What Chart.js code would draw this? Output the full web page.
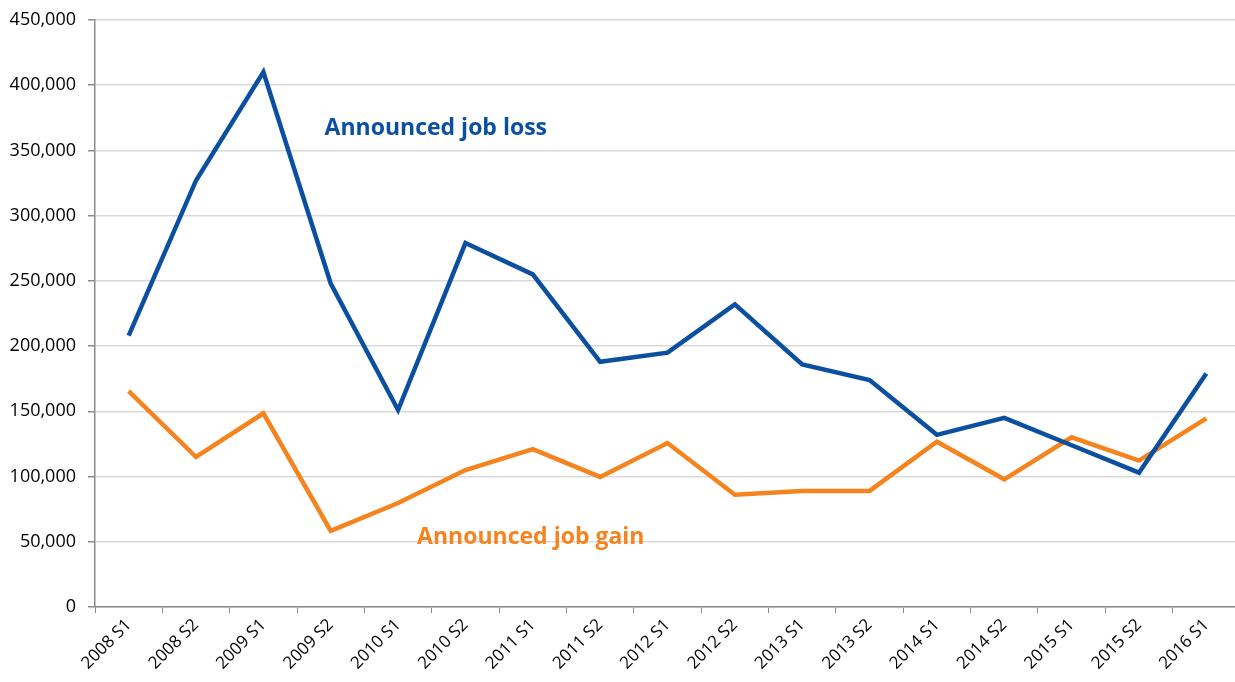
<!DOCTYPE html>
<html>
<head>
<meta charset="utf-8">
<script src="https://cdn.jsdelivr.net/npm/chart.js@4.4.0/dist/chart.umd.min.js"></script>
<style>
    html, body { margin: 0; padding: 0; background: #fff; overflow: hidden; }
    #wrap { width: 1240px; height: 682px; }
</style>
</head>
<body>
<div id="wrap"><canvas id="jobsChart"></canvas></div>
<script>
const periods = ['2008 S1', '2008 S2', '2009 S1', '2009 S2', '2010 S1', '2010 S2', '2011 S1', '2011 S2',
    '2012 S1', '2012 S2', '2013 S1', '2013 S2', '2014 S1', '2014 S2', '2015 S1', '2015 S2', '2016 S1'];
const jobLoss = [208000, 327000, 410000, 248000, 151000, 279000, 255000, 188000,
    195000, 232000, 186000, 174000, 132000, 145000, 124000, 103000, 179000];
const jobGain = [165500, 115000, 148500, 58300, 79700, 105000, 121000, 99700,
    125700, 86000, 89000, 89000, 126700, 97900, 130100, 112200, 144600];
const yTicks = [0, 50000, 100000, 150000, 200000, 250000, 300000, 350000, 400000, 450000];

const BLUE = '#0b4fa0';
const ORANGE = '#f5841f';

// labels written straight on the plot, placed by scale values
const lineLabels = {
    id: 'lineLabels',
    afterDatasetsDraw(chart) {
        const { ctx, scales: { x, y } } = chart;
        const items = [
            { text: 'Announced job loss', color: BLUE, at: 4.56, value: 367000 },
            { text: 'Announced job gain', color: ORANGE, at: 5.97, value: 53000 }
        ];
        ctx.save();
        ctx.font = 'bold 23px "Open Sans"';
        ctx.textAlign = 'center';
        ctx.textBaseline = 'middle';
        items.forEach(item => {
            ctx.fillStyle = item.color;
            ctx.fillText(item.text, x.getPixelForValue(item.at), y.getPixelForValue(item.value));
        });
        ctx.restore();
    }
};

new Chart(document.getElementById('jobsChart'), {
    type: 'line',
    data: {
        labels: periods,
        datasets: [
            { label: 'Announced job loss', data: jobLoss, borderColor: BLUE, borderWidth: 4.5, pointRadius: 0, tension: 0 },
            { label: 'Announced job gain', data: jobGain, borderColor: ORANGE, borderWidth: 4.5, pointRadius: 0, tension: 0 }
        ]
    },
    options: {
        responsive: true,
        maintainAspectRatio: false,
        animation: false,
        layout: { padding: { top: 20, right: 0, left: 0, bottom: 0 } },
        plugins: { legend: { display: false }, tooltip: { enabled: false } },
        scales: {
            x: {
                offset: true,
                grid: { offset: true, drawOnChartArea: false, tickLength: 6, color: '#8c8c8c' },
                border: { color: '#8c8c8c', width: 1.5 },
                ticks: {
                    minRotation: 45, maxRotation: 45, autoSkip: false, padding: 2,
                    color: '#000', font: { family: 'Open Sans', size: 17 }
                },
                afterFit(scale) { scale.height = 75; scale.paddingLeft = 0; scale.paddingRight = 0; }
            },
            y: {
                min: 0,
                max: 450000,
                afterBuildTicks(scale) { scale.ticks = yTicks.map(v => ({ value: v })); },
                grid: { color: '#d9d9d9', lineWidth: 1.5, tickLength: 7, tickColor: '#8c8c8c' },
                border: { color: '#8c8c8c', width: 1.5 },
                ticks: {
                    padding: 12, color: '#000', font: { family: 'Open Sans', size: 18 },
                    callback: v => v.toLocaleString('en-US')
                },
                afterFit(scale) { scale.width = 95; scale.paddingTop = 0; scale.paddingBottom = 0; }
            }
        }
    },
    plugins: [lineLabels]
});
</script>
</body>
</html>
